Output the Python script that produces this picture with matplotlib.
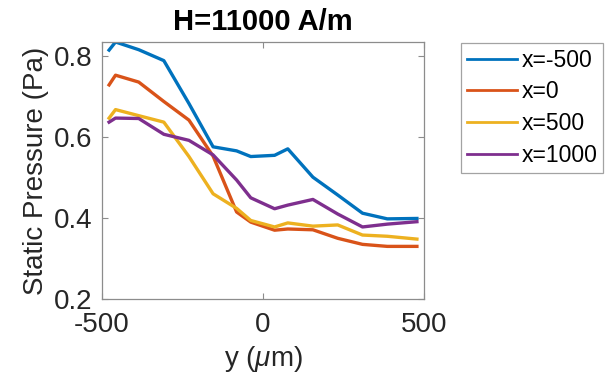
import matplotlib
matplotlib.use("Agg")
import matplotlib.pyplot as plt

# positions along y (um)
y_pos = [-478, -458, -386, -308, -230, -155, -82, -38, 36, 77, 155, 232, 309, 386, 478]

# static pressure (Pa) for each x position
p_xm500 = [0.815, 0.835, 0.816, 0.789, 0.683, 0.576, 0.566, 0.552, 0.555, 0.571,
           0.501, 0.457, 0.412, 0.398, 0.399]
p_x0 = [0.729, 0.753, 0.736, 0.688, 0.642, 0.553, 0.415, 0.390, 0.370, 0.373,
        0.371, 0.350, 0.335, 0.330, 0.330]
p_x500 = [0.647, 0.668, 0.653, 0.637, 0.552, 0.460, 0.424, 0.394, 0.378, 0.388,
          0.380, 0.383, 0.358, 0.355, 0.348]
p_x1000 = [0.637, 0.647, 0.646, 0.607, 0.592, 0.556, 0.494, 0.450, 0.423, 0.432,
           0.446, 0.410, 0.378, 0.385, 0.391]

labels = ["x=-500", "x=0", "x=500", "x=1000"]
colors = ["#0072BD", "#D95319", "#EDB120", "#7E2F8E"]

plt.rcParams["font.family"] = ["Liberation Sans", "DejaVu Sans"]
plt.rcParams["axes.unicode_minus"] = False
plt.rcParams["mathtext.fontset"] = "custom"
plt.rcParams["mathtext.it"] = "Liberation Sans:italic"
plt.rcParams["mathtext.rm"] = "Liberation Sans"

fig = plt.figure(figsize=(6.05, 3.86), dpi=100)
ax = fig.add_axes([102 / 605, 1 - 299 / 386, 322 / 605, 257 / 386])

for vals, lab, col in zip([p_xm500, p_x0, p_x500, p_x1000], labels, colors):
    ax.plot(y_pos, vals, color=col, linewidth=2.4, label=lab)

ax.set_xlim(-500, 500)
ax.set_ylim(0.2, 0.835)
ax.set_xticks([-500, 0, 500])
ax.set_xticklabels(["-500", "0", "500"])
ax.set_yticks([0.2, 0.4, 0.6, 0.8])
ax.set_yticklabels(["0.2", "0.4", "0.6", "0.8"])

ax.tick_params(direction="in", top=True, right=True, length=4, width=0.8,
               colors="#8c8c8c", labelcolor="#262626", labelsize=20)
ax.tick_params(axis="x", pad=9)
ax.tick_params(axis="y", pad=7)
for s in ax.spines.values():
    s.set_color("#8c8c8c")
    s.set_linewidth(0.9)

ax.set_xlabel(r"y ($\mu$m)", fontsize=20, color="#262626", labelpad=5)
ax.set_ylabel("Static Pressure (Pa)", fontsize=20, color="#262626", labelpad=3)
ax.set_title("H=11000 A/m", fontsize=21, fontweight="bold", pad=9)

leg = fig.legend(loc="upper left", bbox_to_anchor=(461 / 605, 1 - 43 / 386),
                 fontsize=16.5, frameon=True, fancybox=False,
                 handlelength=2.2, handletextpad=0.2, borderpad=0.25,
                 labelspacing=0.38, borderaxespad=0)
leg.get_frame().set_edgecolor("#8c8c8c")
leg.get_frame().set_linewidth(0.9)
for line in leg.get_lines():
    line.set_linewidth(2.0)

fig.savefig("out.png", dpi=100)
